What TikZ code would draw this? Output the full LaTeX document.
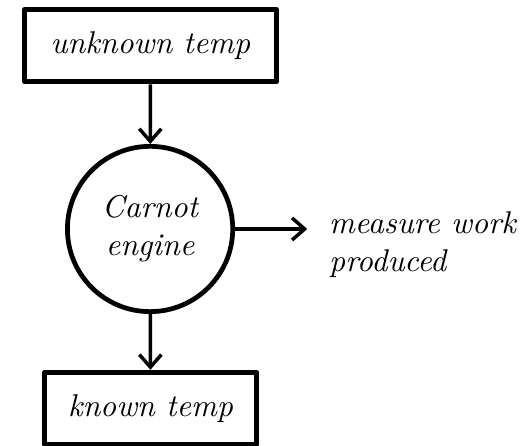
\documentclass[tikz,border=0pt]{standalone}
\usetikzlibrary{arrows.meta}
\begin{document}
\begin{tikzpicture}[
        reservoir/.style={rectangle, draw, line width=1.6pt, line join=round, minimum width=80pt, minimum height=23pt, font=\itshape},
        engine/.style={circle, draw, line width=1.5pt, minimum size=52.5pt, align=center, inner sep=0pt, font=\itshape},
        arrow/.style={-{Straight Barb[length=4pt,width=7pt]}, line width=1.1pt}
    ]
        \useasboundingbox (0,0) rectangle (5.86,4.97);

        % Hot and cold reservoirs
        \node[reservoir] (hot) at (1.68,4.46) {unknown temp};
        \node[reservoir, minimum width=67.5pt] (cold) at (1.68,0.41) {known temp};

        % Engine between them
        \node[engine] (carnot) at (1.675,2.414) {Carnot\\engine};

        \coordinate (out) at (3.43,2.414);
        \node[anchor=west, align=left, font=\itshape] (work) at (3.55,2.24) {measure work\\produced};

        \draw[arrow] (hot) -- (carnot);
        \draw[arrow] (carnot) -- (cold);
        \draw[arrow] (carnot) -- (out);
    \end{tikzpicture}
\end{document}
